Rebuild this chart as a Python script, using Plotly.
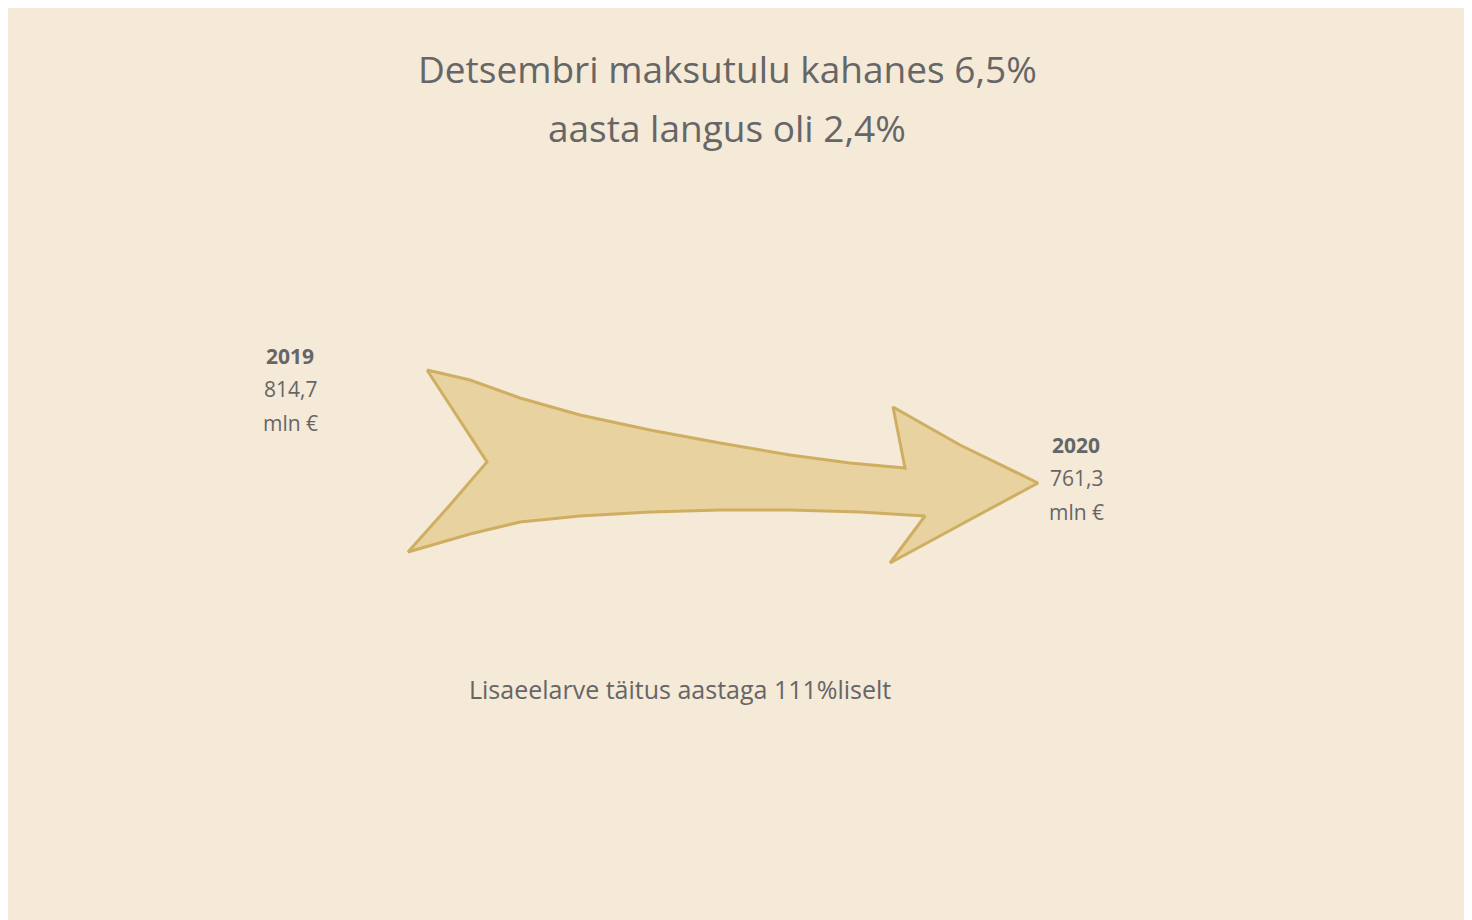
import plotly.graph_objects as go

title_lines = ["Detsembri maksutulu kahanes 6,5%", "aasta langus oli 2,4%"]
years = ["2019", "2020"]
values = ["814,7", "761,3"]
unit = "mln €"
note = "Lisaeelarve täitus aastaga 111%liselt"

# decorative arrow outline (pixel space of the 1472x920 canvas)
arrow_x = [427, 470, 520, 580, 650, 720, 790, 850, 905, 893, 960, 1038, 960, 890, 925, 860, 790, 720, 650, 580, 520, 470, 408, 450, 487, 460, 427]
arrow_y = [370, 380, 398, 415, 430, 443, 455, 463, 468, 407, 445, 483, 525, 563, 516, 512, 510, 510, 512, 516, 522, 534, 552, 505, 462, 420, 370]
off = 8
arrow_x = [v - off for v in arrow_x]
arrow_y = [v - off for v in arrow_y]

bg = "#f5e9d8"
txt = "#666666"
fig = go.Figure()
fig.add_trace(go.Scatter(x=arrow_x, y=arrow_y, mode="lines", fill="toself",
                         fillcolor="#e8d3a0", line=dict(color="#cfae62", width=3),
                         hoverinfo="skip", showlegend=False))
fig.update_layout(
    width=1472, height=920, margin=dict(l=0, r=0, t=0, b=0),
    paper_bgcolor=bg, plot_bgcolor=bg, showlegend=False,
    xaxis=dict(range=[0, 1472], visible=False, fixedrange=True),
    yaxis=dict(range=[920, 0], visible=False, fixedrange=True),
    font=dict(family="Open Sans, Noto Sans, sans-serif", color=txt),
)
ann = [
    dict(x=727, y=68, text=title_lines[0], size=37),
    dict(x=727, y=127, text=title_lines[1], size=37),
    dict(x=290, y=356, text="<b>" + years[0] + "</b>", size=21),
    dict(x=290, y=389, text=values[0], size=21),
    dict(x=290, y=423, text=unit, size=21),
    dict(x=1076, y=445, text="<b>" + years[1] + "</b>", size=21),
    dict(x=1076, y=478, text=values[1], size=21),
    dict(x=1076, y=512, text=unit, size=21),
    dict(x=680, y=689, text=note, size=25),
]
for a in ann:
    fig.add_annotation(x=a["x"] - off, y=a["y"] - off, text=a["text"], showarrow=False,
                       xref="x", yref="y", font=dict(size=a["size"], color=txt),
                       xanchor="center", yanchor="middle")
fig.write_html("out.html")
